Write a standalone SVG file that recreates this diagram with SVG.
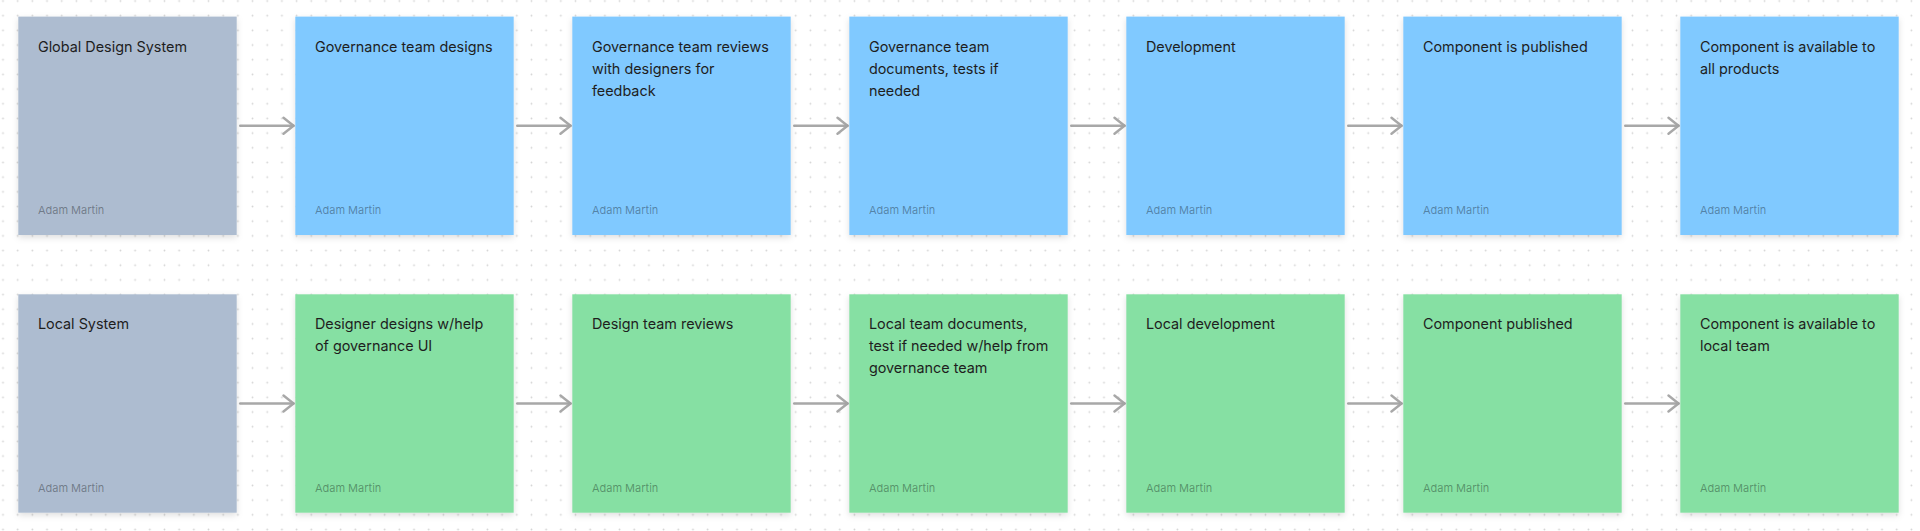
<svg xmlns="http://www.w3.org/2000/svg" width="1920" height="531" viewBox="0 0 1920 531">
<style>
.t{font-family:Inter,"Noto Sans","Liberation Sans",sans-serif;font-size:14.4px;fill:#1e1e1e}
.a{font-family:Inter,"Noto Sans","Liberation Sans",sans-serif;font-size:11px;fill:#000;fill-opacity:0.36}
.slate{fill:#ADBCD0}
.blue{fill:#80C9FF}
.green{fill:#86E0A3}
.conn{stroke:#A8A8A8;stroke-width:2.4;fill:none;stroke-linecap:round;stroke-linejoin:round}
</style>
<defs>
<pattern id="dots" patternUnits="userSpaceOnUse" x="-4.34" y="-6.34" width="14.68" height="14.68">
<circle cx="7.34" cy="7.34" r="0.9" fill="#D4D4D4"/>
</pattern>
<filter id="sh" x="-10%" y="-10%" width="120%" height="125%">
<feDropShadow dx="0" dy="2.5" stdDeviation="3" flood-color="#000" flood-opacity="0.13"/>
</filter>
<marker id="ah" viewBox="0 0 14 20" refX="12" refY="10" markerWidth="14" markerHeight="20" markerUnits="userSpaceOnUse" orient="auto">
<path d="M2,2 L12,10 L2,18" fill="none" stroke="#A8A8A8" stroke-width="2.4" stroke-linecap="round" stroke-linejoin="round"/>
</marker>
</defs>
<rect width="1920" height="531" fill="#FFFFFF"/>
<rect width="1920" height="531" fill="url(#dots)"/>

<g id="connectors">
<line class="conn" x1="240.2" y1="125.8" x2="293.5" y2="125.8" marker-end="url(#ah)"/>
<line class="conn" x1="517.2" y1="125.8" x2="570.5" y2="125.8" marker-end="url(#ah)"/>
<line class="conn" x1="794.2" y1="125.8" x2="847.5" y2="125.8" marker-end="url(#ah)"/>
<line class="conn" x1="1071.2" y1="125.8" x2="1124.5" y2="125.8" marker-end="url(#ah)"/>
<line class="conn" x1="1348.2" y1="125.8" x2="1401.5" y2="125.8" marker-end="url(#ah)"/>
<line class="conn" x1="1625.2" y1="125.8" x2="1678.5" y2="125.8" marker-end="url(#ah)"/>
<line class="conn" x1="240.2" y1="403.5" x2="293.5" y2="403.5" marker-end="url(#ah)"/>
<line class="conn" x1="517.2" y1="403.5" x2="570.5" y2="403.5" marker-end="url(#ah)"/>
<line class="conn" x1="794.2" y1="403.5" x2="847.5" y2="403.5" marker-end="url(#ah)"/>
<line class="conn" x1="1071.2" y1="403.5" x2="1124.5" y2="403.5" marker-end="url(#ah)"/>
<line class="conn" x1="1348.2" y1="403.5" x2="1401.5" y2="403.5" marker-end="url(#ah)"/>
<line class="conn" x1="1625.2" y1="403.5" x2="1678.5" y2="403.5" marker-end="url(#ah)"/>
</g>

<g id="n-global">
<rect class="slate" x="18.3" y="16.6" width="218.4" height="218.4" filter="url(#sh)"/>
<text class="t" x="37.9" y="51.6">Global Design System</text>
<text class="a" x="37.9" y="214">Adam Martin</text>
</g>
<g id="n-gov-designs">
<rect class="blue" x="295.3" y="16.6" width="218.4" height="218.4" filter="url(#sh)"/>
<text class="t" x="314.9" y="51.6">Governance team designs</text>
<text class="a" x="314.9" y="214">Adam Martin</text>
</g>
<g id="n-gov-reviews">
<rect class="blue" x="572.3" y="16.6" width="218.4" height="218.4" filter="url(#sh)"/>
<text class="t" x="591.9" y="51.6">Governance team reviews</text>
<text class="t" x="591.9" y="73.6">with designers for</text>
<text class="t" x="591.9" y="95.6">feedback</text>
<text class="a" x="591.9" y="214">Adam Martin</text>
</g>
<g id="n-gov-documents">
<rect class="blue" x="849.3" y="16.6" width="218.4" height="218.4" filter="url(#sh)"/>
<text class="t" x="868.9" y="51.6">Governance team</text>
<text class="t" x="868.9" y="73.6">documents, tests if</text>
<text class="t" x="868.9" y="95.6">needed</text>
<text class="a" x="868.9" y="214">Adam Martin</text>
</g>
<g id="n-development">
<rect class="blue" x="1126.3" y="16.6" width="218.4" height="218.4" filter="url(#sh)"/>
<text class="t" x="1145.9" y="51.6">Development</text>
<text class="a" x="1145.9" y="214">Adam Martin</text>
</g>
<g id="n-published">
<rect class="blue" x="1403.3" y="16.6" width="218.4" height="218.4" filter="url(#sh)"/>
<text class="t" x="1422.9" y="51.6">Component is published</text>
<text class="a" x="1422.9" y="214">Adam Martin</text>
</g>
<g id="n-available-all">
<rect class="blue" x="1680.3" y="16.6" width="218.4" height="218.4" filter="url(#sh)"/>
<text class="t" x="1699.9" y="51.6">Component is available to</text>
<text class="t" x="1699.9" y="73.6">all products</text>
<text class="a" x="1699.9" y="214">Adam Martin</text>
</g>

<g id="n-local">
<rect class="slate" x="18.3" y="294.3" width="218.4" height="218.4" filter="url(#sh)"/>
<text class="t" x="37.9" y="329.3">Local System</text>
<text class="a" x="37.9" y="491.7">Adam Martin</text>
</g>
<g id="n-designer-designs">
<rect class="green" x="295.3" y="294.3" width="218.4" height="218.4" filter="url(#sh)"/>
<text class="t" x="314.9" y="329.3">Designer designs w/help</text>
<text class="t" x="314.9" y="351.3">of governance UI</text>
<text class="a" x="314.9" y="491.7">Adam Martin</text>
</g>
<g id="n-design-team-reviews">
<rect class="green" x="572.3" y="294.3" width="218.4" height="218.4" filter="url(#sh)"/>
<text class="t" x="591.9" y="329.3">Design team reviews</text>
<text class="a" x="591.9" y="491.7">Adam Martin</text>
</g>
<g id="n-local-documents">
<rect class="green" x="849.3" y="294.3" width="218.4" height="218.4" filter="url(#sh)"/>
<text class="t" x="868.9" y="329.3">Local team documents,</text>
<text class="t" x="868.9" y="351.3">test if needed w/help from</text>
<text class="t" x="868.9" y="373.3">governance team</text>
<text class="a" x="868.9" y="491.7">Adam Martin</text>
</g>
<g id="n-local-development">
<rect class="green" x="1126.3" y="294.3" width="218.4" height="218.4" filter="url(#sh)"/>
<text class="t" x="1145.9" y="329.3">Local development</text>
<text class="a" x="1145.9" y="491.7">Adam Martin</text>
</g>
<g id="n-component-published">
<rect class="green" x="1403.3" y="294.3" width="218.4" height="218.4" filter="url(#sh)"/>
<text class="t" x="1422.9" y="329.3">Component published</text>
<text class="a" x="1422.9" y="491.7">Adam Martin</text>
</g>
<g id="n-available-local">
<rect class="green" x="1680.3" y="294.3" width="218.4" height="218.4" filter="url(#sh)"/>
<text class="t" x="1699.9" y="329.3">Component is available to</text>
<text class="t" x="1699.9" y="351.3">local team</text>
<text class="a" x="1699.9" y="491.7">Adam Martin</text>
</g>
</svg>
